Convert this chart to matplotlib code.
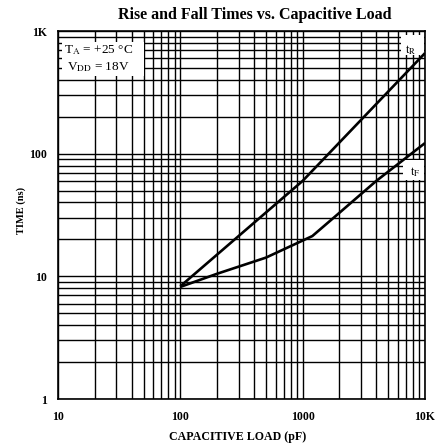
import matplotlib
matplotlib.use("Agg")
import matplotlib.pyplot as plt
from matplotlib.patches import Rectangle
from matplotlib.ticker import LogLocator, NullFormatter

# ---- data ----
cap_rise = [100, 1000, 10000]          # pF
t_rise = [8.3, 60, 660]                # ns
cap_fall = [100, 200, 500, 1200, 2000, 4000, 10000]
t_fall = [8.2, 10.5, 14.2, 21.3, 33, 60, 122]

x_ticks = [10, 100, 1000, 10000]
x_tick_labels = ["10", "100", "1000", "10K"]
y_ticks = [1, 10, 100, 1000]
y_tick_labels = ["1", "10", "100", "1K"]

title = "Rise and Fall Times vs. Capacitive Load"
xlabel = "CAPACITIVE LOAD (pF)"
ylabel = "TIME (ns)"
cond_lines = [r"T$_{\mathrm{A}}$ = +25 °C", r"V$_{\mathrm{DD}}$ = 18V"]
lbl_rise = r"t$_{\mathrm{R}}$"
lbl_fall = r"t$_{\mathrm{F}}$"

plt.rcParams["font.family"] = ["Liberation Serif", "DejaVu Serif"]
plt.rcParams["mathtext.fontset"] = "stix"

W, H = 446, 447
fig = plt.figure(figsize=(W / 100, H / 100), dpi=100)
ax = fig.add_axes([58 / W, (H - 399) / H, 367 / W, 368 / H])
ax.set_xscale("log")
ax.set_yscale("log")
ax.set_xlim(10, 10000)
ax.set_ylim(1, 1000)

ax.xaxis.set_minor_locator(LogLocator(base=10, subs=range(2, 10)))
ax.yaxis.set_minor_locator(LogLocator(base=10, subs=range(2, 10)))
ax.xaxis.set_minor_formatter(NullFormatter())
ax.yaxis.set_minor_formatter(NullFormatter())
ax.grid(True, which="both", color="black", linewidth=1.0, zorder=1)
ax.set_axisbelow(True)

ax.set_xticks(x_ticks)
ax.set_xticklabels(x_tick_labels, fontweight="bold")
ax.set_yticks(y_ticks)
ax.set_yticklabels(y_tick_labels, fontweight="bold")
ax.tick_params(which="both", length=0)
ax.tick_params(axis="x", pad=9, labelsize=8.5)
ax.tick_params(axis="y", pad=8, labelsize=8.5)
for sp in ax.spines.values():
    sp.set_linewidth(1.2)
    sp.set_color("black")

ax.plot(cap_rise, t_rise, color="black", linewidth=1.9, zorder=5,
        solid_joinstyle="round", solid_capstyle="butt")
ax.plot(cap_fall, t_fall, color="black", linewidth=1.9, zorder=5,
        solid_joinstyle="round", solid_capstyle="butt")

# white box for the conditions
ax.add_patch(Rectangle((0.012, 0.878), 0.222, 0.092, transform=ax.transAxes,
                       facecolor="white", edgecolor="none", zorder=3))
ax.text(0.015, 0.948, cond_lines[0], transform=ax.transAxes, fontsize=9.5,
        va="center", ha="left", zorder=4)
ax.text(0.025, 0.902, cond_lines[1], transform=ax.transAxes, fontsize=9.5,
        va="center", ha="left", zorder=4)

# curve labels
ax.add_patch(Rectangle((0.935, 0.935), 0.063, 0.053, transform=ax.transAxes,
                       facecolor="white", edgecolor="none", zorder=3))
ax.text(0.962, 0.947, lbl_rise, transform=ax.transAxes, fontsize=9,
        va="center", ha="center", zorder=4)
ax.add_patch(Rectangle((0.94, 0.595), 0.058, 0.055, transform=ax.transAxes,
                       facecolor="white", edgecolor="none", zorder=3))
ax.text(0.973, 0.617, lbl_fall, transform=ax.transAxes, fontsize=9,
        va="center", ha="center", zorder=4)

fig.text(255 / W, 1 - 15 / H, title, ha="center", va="center",
         fontsize=11.5, fontweight="bold")
fig.text(238 / W, 1 - 437 / H, xlabel, ha="center", va="center",
         fontsize=8.6, fontweight="bold")
fig.text(21 / W, 1 - 210 / H, ylabel, ha="center", va="center",
         fontsize=7.5, fontweight="bold", rotation=90)

fig.savefig("out.png", dpi=100)
